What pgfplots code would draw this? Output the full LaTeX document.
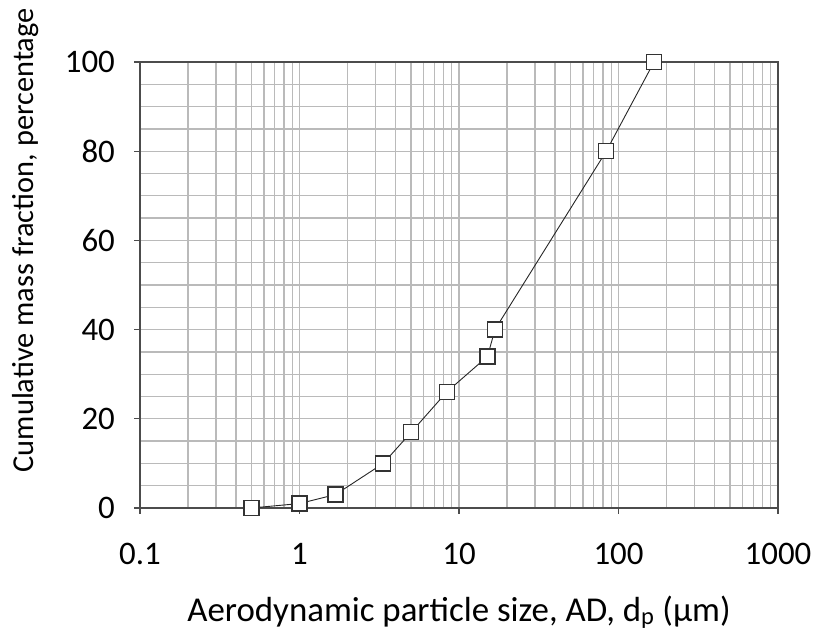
\documentclass[border=0pt]{standalone}
\usepackage{fontspec}
\setmainfont{Carlito}
\usepackage{pgfplots}
\pgfplotsset{compat=1.18}
\begin{document}
\begin{tikzpicture}
\begin{axis}[
  at={(140bp,127bp)}, anchor=south west,
  scale only axis, width=638bp, height=446bp,
  xmode=log, xmin=0.1, xmax=1000, ymin=0, ymax=100,
  xtick={0.1,1,10,100,1000}, xticklabels={0.1,1,10,100,1000},
  ytick={0,20,40,60,80,100}, minor ytick={5,10,15,25,30,35,45,50,55,65,70,75,85,90,95},
  grid=both,
  major grid style={draw=black!27, line width=1.3bp},
  minor grid style={draw=black!27, line width=1.3bp},
  axis line style={draw=black!70, line width=1.3bp},
  tick style={draw=black!70, line width=1.3bp},
  tick align=outside, tick pos=left,
  major tick length=6bp, minor tick length=0bp,
  /pgf/number format/assume math mode=true,
  ticklabel style={font=\fontsize{33}{36}\selectfont},
  xticklabel style={anchor=base, yshift=-50bp},
  yticklabel style={anchor=east, inner sep=0pt, xshift=-19bp},
  xlabel={Aerodynamic particle size, AD, d\textsubscript{p} (μm)},
  ylabel={Cumulative mass fraction, percentage},
  xlabel style={font=\fontsize{35}{38}\selectfont, at={(axis description cs:0.5,-0.2534)}, anchor=base},
  ylabel style={font=\fontsize{30.5}{34}\selectfont, at={(axis description cs:-0.1787,0.600)}, anchor=center},
  clip=false,
]
\addplot[black!85, line width=0.9bp, mark=square*,
  mark options={fill=white, draw=black!80, line width=1.3bp}, mark size=7.5bp]
  coordinates {
  (0.5,0) (1,1) (1.68,3) (3.35,10) (5.02,17) (8.37,26)
  (15.1,34) (16.8,40) (83.8,80) (167,100)
  };
\end{axis}
\pgfresetboundingbox
\path (0bp,0bp) rectangle (815bp,635bp);
\end{tikzpicture}
\end{document}
